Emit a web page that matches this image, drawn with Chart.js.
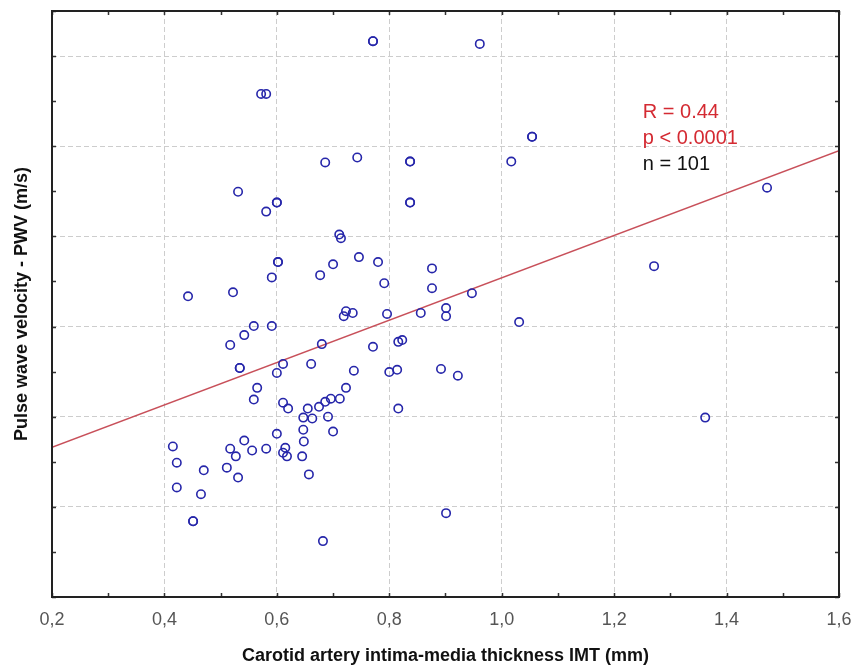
<!DOCTYPE html>
<html>
<head>
<meta charset="utf-8">
<script src="https://cdn.jsdelivr.net/npm/chart.js@4/dist/chart.umd.min.js"></script>
<style>
html,body{margin:0;padding:0;background:#fff;}
#wrap{width:864px;height:668px;position:relative;}
</style>
</head>
<body>
<div id="wrap"><canvas id="c" width="864" height="668"></canvas></div>
<script>
// IMT (mm) of each subject
const imtValues = [
  0.771,0.961,0.572,0.581,1.054,0.743,0.686,0.837,1.017,0.531,
  0.600,0.837,0.581,0.711,0.714,1.472,0.746,0.602,0.700,0.780,
  1.271,0.876,0.591,0.677,0.791,0.876,0.522,0.442,0.947,0.723,
  0.719,0.735,0.796,0.856,0.901,0.901,1.031,0.559,0.591,0.542,
  0.517,0.680,0.771,0.816,0.823,0.534,0.611,0.600,0.661,0.737,
  0.800,0.814,0.892,0.922,0.565,0.723,0.559,0.611,0.620,0.655,
  0.712,0.696,0.686,0.675,0.647,0.663,0.691,0.816,1.362,0.647,
  0.700,0.600,0.648,0.542,0.415,0.517,0.556,0.581,0.615,0.611,
  0.618,0.527,0.645,0.422,0.470,0.511,0.531,0.657,0.422,0.465,
  0.901,0.451,0.682,0.771,1.054,0.837,0.837,0.602,0.600,0.534,
  0.451
];
// PWV (m/s) of each subject
const pwvValues = [
  16.33,16.27,15.16,15.16,14.21,13.75,13.64,13.66,13.66,12.99,
  12.75,12.75,12.55,12.04,11.96,13.08,11.54,11.43,11.38,11.43,
  11.34,11.29,11.09,11.14,10.96,10.85,10.76,10.67,10.74,10.34,
  10.23,10.30,10.28,10.30,10.41,10.23,10.10,10.01,10.01,9.81,
  9.59,9.61,9.55,9.66,9.70,9.08,9.17,8.97,9.17,9.02,
  8.99,9.04,9.06,8.91,8.64,8.64,8.38,8.31,8.18,8.18,
  8.40,8.40,8.33,8.22,7.98,7.96,8.00,8.18,7.98,7.71,
  7.67,7.62,7.45,7.47,7.34,7.29,7.25,7.29,7.31,7.20,
  7.12,7.12,7.12,6.98,6.81,6.87,6.65,6.72,6.43,6.28,
  5.86,5.68,5.24,16.33,14.21,13.66,12.75,11.43,12.75,9.08,
  5.68
];
// regression line end points
const fitX = [0.2, 1.6];
const fitY = [7.32, 13.90];
// axis ticks
const xTickValues = [0.2,0.4,0.6,0.8,1.0,1.2,1.4,1.6];
const xTickLabels = ['0,2','0,4','0,6','0,8','1,0','1,2','1,4','1,6'];
const yTickValues = [4,6,8,10,12,14,16];
// annotation
const statLines = ['R = 0.44','p < 0.0001','n = 101'];
const statColors = ['#d42a32','#d42a32','#111111'];
const statAnchor = {x: 1.251, y: 14.74};

const points = imtValues.map((v,i)=>({x:v, y:pwvValues[i]}));
const fitPoints = fitX.map((v,i)=>({x:v, y:fitY[i]}));

const framePlugin = {
  id: 'frame',
  afterDraw(chart){
    const {ctx, chartArea:a, scales:{x, y}} = chart;
    ctx.save();
    // tick marks (major and minor), drawn inward
    ctx.strokeStyle = '#333';
    ctx.lineWidth = 1.5;
    ctx.beginPath();
    for (let v = 0.2; v <= 1.6001; v += 0.1) {
      const px = Math.round(x.getPixelForValue(v)) + 0.5;
      ctx.moveTo(px, a.bottom); ctx.lineTo(px, a.bottom - 4);
      ctx.moveTo(px, a.top); ctx.lineTo(px, a.top + 4);
    }
    for (let v = 4; v <= 17.001; v += 1) {
      const py = Math.round(y.getPixelForValue(v)) + 0.5;
      ctx.moveTo(a.left, py); ctx.lineTo(a.left + 4, py);
      ctx.moveTo(a.right, py); ctx.lineTo(a.right - 4, py);
    }
    ctx.stroke();
    // frame
    ctx.strokeStyle = '#222';
    ctx.lineWidth = 2;
    ctx.strokeRect(a.left, a.top, a.right - a.left, a.bottom - a.top);
    // stats text
    ctx.font = '20px "Liberation Sans", Arial, sans-serif';
    ctx.textBaseline = 'middle';
    ctx.textAlign = 'left';
    const tx = x.getPixelForValue(statAnchor.x);
    const ty = y.getPixelForValue(statAnchor.y);
    statLines.forEach((s,i)=>{
      ctx.fillStyle = statColors[i];
      ctx.fillText(s, tx, ty + i*26);
    });
    ctx.restore();
  }
};

new Chart(document.getElementById('c'), {
  type: 'scatter',
  data: {
    datasets: [
      {
        label: 'PWV',
        data: points,
        pointStyle: 'circle',
        pointRadius: 4.2,
        pointBorderWidth: 1.6,
        pointBorderColor: '#2626aa',
        pointBackgroundColor: 'rgba(0,0,0,0)',
        showLine: false
      },
      {
        label: 'fit',
        type: 'line',
        data: fitPoints,
        borderColor: '#c8505a',
        borderWidth: 1.4,
        pointRadius: 0,
        fill: false
      }
    ]
  },
  options: {
    responsive: false,
    animation: false,
    events: [],
    layout: {padding: {top: 11, right: 25, left: 0, bottom: 0}},
    plugins: {legend: {display: false}, tooltip: {enabled: false}},
    scales: {
      x: {
        type: 'linear',
        min: 0.2, max: 1.6,
        afterFit(s){ s.height = 71; },
        afterBuildTicks(s){ s.ticks = xTickValues.map(v=>({value:v})); },
        ticks: {
          callback(v){ const i = xTickValues.findIndex(t=>Math.abs(t-v)<1e-6); return i>=0 ? xTickLabels[i] : ''; },
          color: '#555',
          font: {family: '"Liberation Sans", Arial, sans-serif', size: 18},
          padding: 12,
          maxRotation: 0,
          autoSkip: false
        },
        grid: {color: '#cdcdcd', lineWidth: 1, drawTicks: false},
        border: {display: false, dash: [5,3]},
        title: {
          display: true,
          text: 'Carotid artery intima-media thickness IMT (mm)',
          color: '#111',
          font: {family: '"Liberation Sans", Arial, sans-serif', size: 18, weight: 'bold'},
          padding: {top: 0, bottom: 1}
        }
      },
      y: {
        type: 'linear',
        min: 4, max: 17,
        afterFit(s){ s.width = 52; },
        afterBuildTicks(s){ s.ticks = yTickValues.map(v=>({value:v})); },
        ticks: {display: false},
        grid: {color: '#cdcdcd', lineWidth: 1, drawTicks: false},
        border: {display: false, dash: [5,3]},
        title: {
          display: true,
          text: 'Pulse wave velocity - PWV (m/s)',
          color: '#111',
          font: {family: '"Liberation Sans", Arial, sans-serif', size: 18, weight: 'bold'},
          padding: {top: 11, bottom: 0}
        }
      }
    }
  },
  plugins: [framePlugin]
});
</script>
</body>
</html>
